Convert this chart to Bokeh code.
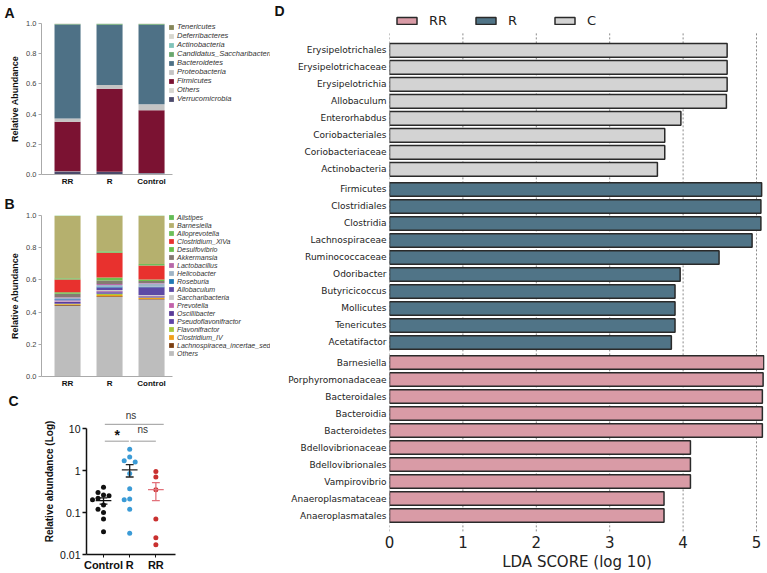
import numpy as np
from bokeh.plotting import figure
from bokeh.models import (Range1d, Legend, LegendItem, LinearAxis,
                          FixedTicker, ColumnDataSource, PrintfTickFormatter)
from bokeh.layouts import row, column
from bokeh.embed import file_html
from bokeh.resources import INLINE
from bokeh.core.properties import value

# ---------------- data ----------------
groups = ["RR", "R", "Control"]

# Panel A: phylum level (bottom of stack first)
phylum_names = ["Verrucomicrobia", "Others", "Firmicutes", "Proteobacteria", "Bacteroidetes",
                "Candidatus_Saccharibacteria", "Actinobacteria", "Deferribacteres", "Tenericutes"]
verrucomicrobia = [0.020, 0.017, 0.008]
others_phylum = [0.002, 0.002, 0.002]
firmicutes = [0.327, 0.549, 0.416]
proteobacteria = [0.022, 0.024, 0.039]
bacteroidetes = [0.622, 0.399, 0.526]
cand_saccharibacteria = [0.003, 0.006, 0.005]
actinobacteria = [0.001, 0.001, 0.001]
deferribacteres = [0.001, 0.001, 0.001]
tenericutes = [0.002, 0.001, 0.002]
phylum_values = [verrucomicrobia, others_phylum, firmicutes, proteobacteria, bacteroidetes,
                 cand_saccharibacteria, actinobacteria, deferribacteres, tenericutes]
phylum_colors = ["#4b4a6b", "#d6d6d0", "#7b1232", "#c4c4c4", "#4e7186",
                 "#6aa86e", "#80c3b9", "#d7d7cf", "#868659"]

# Panel B: genus level (bottom of stack first)
genus_names = ["Others", "Lachnospiracea_incertae_sedis", "Clostridium_IV", "Flavonifractor",
               "Pseudoflavonifractor", "Oscillibacter", "Prevotella", "Saccharibacteria",
               "Allobaculum", "Roseburia", "Helicobacter", "Lactobacillus", "Akkermansia",
               "Desulfovibrio", "Clostridium_XlVa", "Alloprevotella", "Barnesiella", "Alistipes"]
g_others = [0.440, 0.494, 0.478]
g_lachno = [0.004, 0.004, 0.004]
g_clos_iv = [0.004, 0.008, 0.006]
g_flavoni = [0.004, 0.008, 0.003]
g_pseudoflav = [0.005, 0.008, 0.004]
g_oscilli = [0.008, 0.006, 0.003]
g_prevotella = [0.003, 0.003, 0.004]
g_sacchari = [0.004, 0.006, 0.004]
g_allobac = [0.006, 0.016, 0.048]
g_roseburia = [0.003, 0.006, 0.003]
g_helico = [0.008, 0.010, 0.020]
g_lactob = [0.003, 0.006, 0.004]
g_akker = [0.022, 0.022, 0.012]
g_desulfo = [0.010, 0.018, 0.009]
g_clos_xiva = [0.078, 0.154, 0.087]
g_allopre = [0.008, 0.009, 0.010]
g_barnes = [0.387, 0.219, 0.298]
g_alistipes = [0.003, 0.003, 0.003]
genus_values = [g_others, g_lachno, g_clos_iv, g_flavoni, g_pseudoflav, g_oscilli, g_prevotella,
                g_sacchari, g_allobac, g_roseburia, g_helico, g_lactob, g_akker, g_desulfo,
                g_clos_xiva, g_allopre, g_barnes, g_alistipes]
genus_colors = ["#bdbdbd", "#7b3f12", "#f0a01a", "#a8c83e", "#5f45a8", "#5a3c98", "#c262aa",
                "#c9c9c9", "#5d4aa5", "#1f78b4", "#9fb4c6", "#b768a9", "#857a72", "#6abf4b",
                "#e8312e", "#6cc05a", "#b5b06e", "#62bb55"]

# Panel C: relative abundance per animal
c_groups = ["Control", "R", "RR"]
c_control = [0.40, 0.30, 0.26, 0.25, 0.22, 0.20, 0.15, 0.12, 0.10, 0.07, 0.035]
c_r = [3.2, 2.1, 1.7, 1.6, 0.85, 0.37, 0.21, 0.20, 0.12, 0.032]
c_rr = [0.95, 0.70, 0.35, 0.07, 0.025, 0.017]

# Panel D: LEfSe LDA scores
lda_names_c = ["Erysipelotrichales", "Erysipelotrichaceae", "Erysipelotrichia", "Allobaculum",
               "Enterorhabdus", "Coriobacteriales", "Coriobacteriaceae", "Actinobacteria"]
lda_c = [4.60, 4.60, 4.60, 4.59, 3.97, 3.75, 3.75, 3.65]
lda_names_r = ["Firmicutes", "Clostridiales", "Clostridia", "Lachnospiraceae", "Ruminococcaceae",
               "Odoribacter", "Butyricicoccus", "Mollicutes", "Tenericutes", "Acetatifactor"]
lda_r = [5.07, 5.06, 5.06, 4.94, 4.49, 3.96, 3.89, 3.89, 3.89, 3.84]
lda_names_rr = ["Barnesiella", "Porphyromonadaceae", "Bacteroidales", "Bacteroidia", "Bacteroidetes",
                "Bdellovibrionaceae", "Bdellovibrionales", "Vampirovibrio", "Anaeroplasmataceae",
                "Anaeroplasmatales"]
lda_rr = [5.10, 5.09, 5.08, 5.08, 5.08, 4.10, 4.10, 4.10, 3.74, 3.74]
lda_ticks = [0, 1, 2, 3, 4, 5]

FONT = "Liberation Sans"


def set_letter(p, letter, offset, standoff):
    p.title.text = letter
    p.title.align = "left"
    p.title.offset = offset
    p.title.standoff = standoff
    p.title.text_font = FONT
    p.title.text_font_size = "14px"
    p.title.text_font_style = "bold"
    p.title.text_color = "#111111"


def stack_panel(names, values, colors, W, H, bl, bt, bb, label_h, legend_top, leg_font, letter,
                t_off, t_stand):
    bar_px = 42.0                      # width of one category slot in pixels
    x_start = -0.12
    fw = W - bl
    fh = H - bt - bb
    xpos = [i + 0.5 for i in range(len(groups))]
    data = {"xpos": xpos}
    for n, v in zip(names, values):
        data[n] = v
    src = ColumnDataSource(data)
    p = figure(width=W, height=H, x_range=Range1d(x_start, x_start + fw / bar_px),
               y_range=Range1d(0, 1),
               output_backend="svg", toolbar_location=None, frame_align=False,
               min_border_left=bl, min_border_right=0, min_border_top=bt, min_border_bottom=bb)
    rs = p.vbar_stack(names, x="xpos", width=0.62, color=colors, line_color=None, source=src)
    p.xgrid.visible = False
    p.ygrid.visible = False
    p.outline_line_color = None
    ya = p.yaxis[0]
    ya.ticker = FixedTicker(ticks=[0, 0.2, 0.4, 0.6, 0.8, 1.0])
    ya.formatter = PrintfTickFormatter(format="%.1f")
    ya.axis_line_color = "#aaaaaa"
    ya.major_tick_line_color = "#aaaaaa"
    ya.major_tick_out = 3
    ya.major_tick_in = 0
    ya.minor_tick_line_color = None
    ya.major_label_text_font = FONT
    ya.major_label_text_font_size = "7.5px"
    ya.major_label_text_color = "#444444"
    ya.major_label_standoff = 2
    ya.axis_label = "Relative Abundance"
    ya.axis_label_text_font = FONT
    ya.axis_label_text_font_size = "9px"
    ya.axis_label_text_font_style = "bold"
    ya.axis_label_text_color = "#111111"
    ya.axis_label_standoff = 3
    xa = p.xaxis[0]
    xa.ticker = FixedTicker(ticks=xpos)
    xa.major_label_overrides = {x_: g_ for x_, g_ in zip(xpos, groups)}
    xa.bounds = (x_start, len(groups))
    xa.axis_line_color = "#aaaaaa"
    xa.major_tick_line_color = None
    xa.major_tick_out = 0
    xa.minor_tick_line_color = None
    xa.major_label_text_font = FONT
    xa.major_label_text_font_size = "8px"
    xa.major_label_text_font_style = "bold"
    xa.major_label_text_color = "#111111"
    xa.major_label_standoff = 2
    n = len(names)
    leg_h = n * label_h
    items = [LegendItem(label=nm, renderers=[r]) for nm, r in zip(reversed(names), reversed(rs))]
    leg = Legend(items=items, location=((len(groups) - x_start) * bar_px - 4, fh - legend_top - leg_h),
                 orientation="vertical",
                 label_text_font=FONT, label_text_font_size=leg_font, label_text_font_style="italic",
                 label_text_color="#333333", glyph_width=6, glyph_height=6, label_height=label_h,
                 label_standoff=3, spacing=0, padding=0, margin=0, border_line_color=None,
                 background_fill_alpha=0)
    p.add_layout(leg)
    set_letter(p, letter, t_off, t_stand)
    return p


# ---------------- Panel A / B ----------------
pA = stack_panel(phylum_names, phylum_values, phylum_colors, 270, 190, 41, 21, 16,
                 9, 1, "7.5px", "A", -37, 5)
pB = stack_panel(genus_names, genus_values, genus_colors, 270, 200, 41, 23, 12,
                 8, 2, "7px", "B", -37, 7)

# ---------------- Panel C ----------------
CW, CH, cbl, cbr, cbt, cbb = 270, 183, 86, 95, 18, 18
c_fw = CW - cbl - cbr
c_fh = CH - cbt - cbb
c_ylo, c_yhi = 0.01, 30
c_xlo, c_xhi = 0.35, 3.75
pC = figure(width=CW, height=CH, x_range=Range1d(c_xlo, c_xhi), y_range=Range1d(c_ylo, c_yhi),
            y_axis_type="log", output_backend="svg", toolbar_location=None, frame_align=False,
            min_border_left=cbl, min_border_right=cbr, min_border_top=cbt, min_border_bottom=cbb)
pC.xgrid.visible = False
pC.ygrid.visible = False
pC.outline_line_color = None

px_per_dec = c_fh / np.log10(c_yhi / c_ylo)
px_per_unit = c_fw / (c_xhi - c_xlo)


def swarm_offsets(vals, step=5.5, diam=5.5):
    vals = np.asarray(vals, dtype=float)
    order = np.argsort(-vals)
    placed = []
    offs = np.zeros(len(vals))
    for i in order:
        yv = np.log10(vals[i]) * px_per_dec
        for k in [0, -1, 1, -2, 2, -3, 3, -4, 4]:
            xo = k * step
            if all((xo - qx) ** 2 + (yv - qy) ** 2 >= diam ** 2 for qx, qy in placed):
                break
        placed.append((xo, yv))
        offs[i] = xo / px_per_unit
    return offs


c_series = [c_control, c_r, c_rr]
c_dot_colors = ["#111111", "#3b9bd6", "#c9302f"]
c_bar_colors = ["#111111", "#222222", "#e2727b"]
for gi, (vals, dc, bc) in enumerate(zip(c_series, c_dot_colors, c_bar_colors)):
    xc = gi + 1
    offs = swarm_offsets(vals)
    pC.scatter(x=xc + offs, y=vals, size=5, color=dc, line_color=None)
    arr = np.asarray(vals)
    m = arr.mean()
    sem = arr.std(ddof=1) / np.sqrt(len(arr))
    pC.segment(x0=[xc - 0.3, xc, xc - 0.15, xc - 0.15], y0=[m, m - sem, m - sem, m + sem],
               x1=[xc + 0.3, xc, xc + 0.15, xc + 0.15], y1=[m, m + sem, m - sem, m + sem],
               line_color=bc, line_width=1.3)

# significance brackets
pC.segment(x0=[1.05, 1.05, 2.03], y0=[12.6, 5.0, 5.0], x1=[3.3, 1.97, 3.0], y1=[12.6, 5.0, 5.0],
           line_color="#9a9a9a", line_width=1)
pC.text(x=[2.05, 2.5], y=[21, 9.7], text=["ns", "ns"], text_font=value(FONT),
        text_font_size="10px", text_align="center", text_baseline="middle", text_color="#333333")
pC.text(x=[1.52], y=[7.2], text=["*"], text_font=value(FONT), text_font_size="14px",
        text_font_style="bold", text_align="center", text_baseline="middle", text_color="#111111")

yc = pC.yaxis[0]
yc.ticker = FixedTicker(ticks=[0.01, 0.1, 1, 10])
yc.major_label_overrides = {0.01: "0.01", 0.1: "0.1", 1: "1", 10: "10"}
yc.bounds = (0.01, 10)
yc.axis_line_color = "#111111"
yc.axis_line_width = 1.5
yc.major_tick_line_color = "#111111"
yc.major_tick_line_width = 1.5
yc.major_tick_out = 4
yc.major_tick_in = 0
yc.minor_tick_line_color = None
yc.major_label_text_font = FONT
yc.major_label_text_font_size = "10.5px"
yc.major_label_text_color = "#111111"
yc.major_label_standoff = 2
yc.axis_label = "Relative abundance (Log)"
yc.axis_label_text_font = FONT
yc.axis_label_text_font_size = "10px"
yc.axis_label_text_font_style = "bold"
yc.axis_label_text_color = "#111111"
yc.axis_label_standoff = 2
xc_ax = pC.xaxis[0]
xc_ax.ticker = FixedTicker(ticks=[1, 2, 3])
xc_ax.major_label_overrides = {1: c_groups[0], 2: c_groups[1], 3: c_groups[2]}
xc_ax.axis_line_color = "#111111"
xc_ax.axis_line_width = 1.5
xc_ax.major_tick_line_color = "#111111"
xc_ax.major_tick_out = 3
xc_ax.major_tick_in = 0
xc_ax.minor_tick_line_color = None
xc_ax.major_label_text_font = FONT
xc_ax.major_label_text_font_size = "11px"
xc_ax.major_label_text_font_style = "bold"
xc_ax.major_label_text_color = "#111111"
xc_ax.major_label_standoff = 1
set_letter(pC, "C", -78, 0)

# ---------------- Panel D ----------------
DW, DH, dbl, dbr, dbt, dbb = 497, 573, 119, 3, 8, 41
gap = 0.18
names_all, pos_all = [], []
group_pos = []
idx = 0
for g, nm_list in enumerate([lda_names_c, lda_names_r, lda_names_rr]):
    gp = []
    for nm in nm_list:
        pos = idx + g * gap
        names_all.append(nm)
        pos_all.append(pos)
        gp.append(pos)
        idx += 1
    group_pos.append(gp)

d_fw = DW - dbl - dbr
d_fh = DH - dbt - dbb
row_px = 17.0
lda_px = 73.4
y_bottom = pos_all[-1] + 1.0
y_gridtop = -1.0
y_top = y_bottom - d_fh / row_px
pD = figure(width=DW, height=DH, x_range=Range1d(0, d_fw / lda_px), y_range=Range1d(y_bottom, y_top),
            output_backend="svg", toolbar_location=None, frame_align=False,
            min_border_left=dbl, min_border_right=dbr, min_border_top=dbt, min_border_bottom=dbb)
pD.outline_line_color = None
pD.xgrid.visible = False
pD.ygrid.visible = False

# dotted vertical guide lines at each LDA tick, spanning the bar region
pD.segment(x0=lda_ticks, x1=lda_ticks, y0=[y_gridtop] * len(lda_ticks),
           y1=[y_bottom] * len(lda_ticks), line_color="#8a8a8a", line_dash="2 2", line_width=1)

d_colors = ["#d3d3d3", "#507487", "#d99ba6"]
rend = []
for gp, sc, col in zip(group_pos, [lda_c, lda_r, lda_rr], d_colors):
    r = pD.hbar(y=gp, left=0, right=sc, height=0.8, fill_color=col, line_color="#2a2a2a",
                line_width=1.5)
    rend.append(r)

xd = pD.xaxis[0]
xd.ticker = FixedTicker(ticks=lda_ticks)
xd.axis_line_color = None
xd.major_tick_line_color = None
xd.major_tick_out = 0
xd.minor_tick_line_color = None
xd.major_label_text_font = "DejaVu Sans"
xd.major_label_text_font_size = "15px"
xd.major_label_text_color = "#222222"
xd.major_label_standoff = 3
xd.axis_label = "LDA SCORE (log 10)"
xd.axis_label_text_font = "DejaVu Sans"
xd.axis_label_text_font_size = "15px"
xd.axis_label_text_font_style = "normal"
xd.axis_label_text_color = "#222222"
xd.axis_label_standoff = 2

yd = pD.yaxis[0]
yd.ticker = FixedTicker(ticks=pos_all)
yd.major_label_overrides = {p_: n_ for p_, n_ in zip(pos_all, names_all)}
yd.axis_line_color = None
yd.major_tick_line_color = None
yd.major_tick_out = 0
yd.major_tick_in = 0
yd.minor_tick_line_color = None
yd.major_label_text_font = "DejaVu Sans"
yd.major_label_text_font_size = "9px"
yd.major_label_text_color = "#222222"
yd.major_label_standoff = 3

# panel letter "D" carried by an outer left axis with a single labelled tick
d_letter_y = y_gridtop - (33 - 10.5) / row_px
ax_letter = LinearAxis(ticker=FixedTicker(ticks=[d_letter_y]),
                       major_label_overrides={d_letter_y: "D"})
ax_letter.axis_line_color = None
ax_letter.major_tick_line_color = None
ax_letter.major_tick_out = 0
ax_letter.major_tick_in = 0
ax_letter.minor_tick_line_color = None
ax_letter.major_label_standoff = 1
ax_letter.major_label_text_font = FONT
ax_letter.major_label_text_font_size = "14px"
ax_letter.major_label_text_font_style = "bold"
ax_letter.major_label_text_color = "#111111"
pD.add_layout(ax_letter, "left")

legD = Legend(items=[LegendItem(label="RR", renderers=[rend[2]]),
                     LegendItem(label="R", renderers=[rend[1]]),
                     LegendItem(label="C", renderers=[rend[0]])],
              orientation="horizontal", location="top_left",
              glyph_width=25, glyph_height=9, label_standoff=10, spacing=24, padding=0, margin=5,
              label_text_font="DejaVu Sans", label_text_font_size="13px", label_text_color="#222222",
              label_height=15, border_line_color=None, background_fill_alpha=0)
pD.add_layout(legD)

layout = row(column(pA, pB, pC), pD)
open("out.html", "w").write(file_html(layout, INLINE))
